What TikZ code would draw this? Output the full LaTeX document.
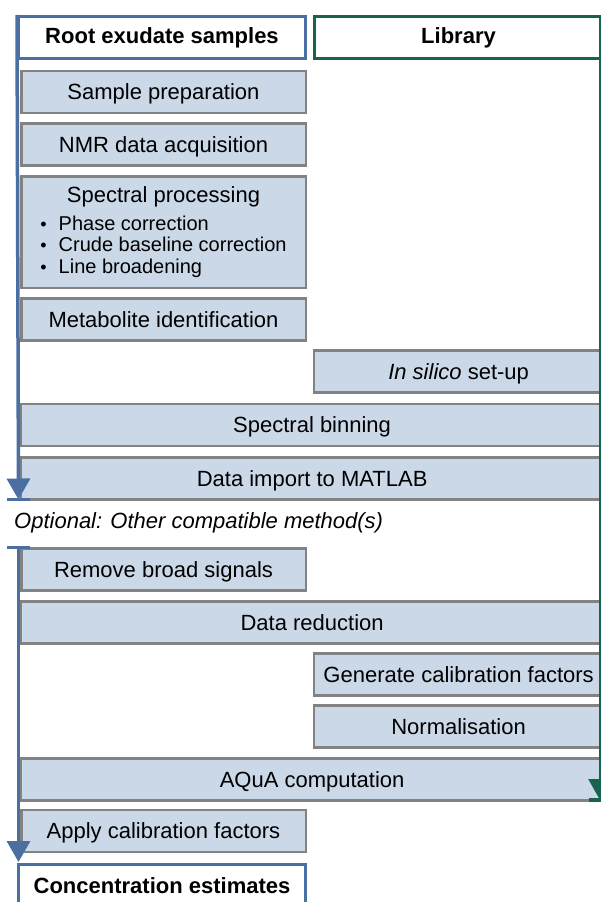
\documentclass[tikz,border=0pt]{standalone}
\usepackage{fontspec}
\setmainfont{Liberation Sans}
\usetikzlibrary{arrows.meta}
\definecolor{boxfill}{HTML}{CBD8E8}
\definecolor{boxline}{HTML}{828282}
\definecolor{rootblue}{HTML}{4A6FA0}
\definecolor{libgreen}{HTML}{17634C}
\newcommand{\basefont}{\fontsize{22}{26}\selectfont}
\newcommand{\smallbullet}{{\fontsize{18}{18}\selectfont\textbullet}}
\tikzstyle{stepbox} = [rectangle, draw=boxline, fill=boxfill, line width=2.5pt,
minimum height=42pt, inner sep=0pt, font=\basefont]
\tikzstyle{oneline} = [text height=18pt, text depth=2.5pt]
\tikzstyle{leftbox} = [stepbox, oneline, minimum width=284.5pt]
\tikzstyle{rightbox} = [stepbox, oneline, minimum width=288.75pt]
\tikzstyle{fullbox} = [stepbox, oneline, minimum width=581.75pt]
\tikzstyle{header} = [rectangle, fill=white, line width=3pt,
minimum height=42pt, inner sep=0pt, font=\basefont\bfseries]
\tikzstyle{flow} = [line width=3.5pt, -{Triangle[width=23pt,length=21pt]}]
\tikzstyle{endbar} = [line width=3.5pt]

\begin{document}
\begin{tikzpicture}[x=1pt, y=-1pt]
\useasboundingbox (0,0) rectangle (600,902);

% Headers
\node[header, draw=rootblue, minimum width=287pt] (samples) at (162,37.5) {Root exudate samples};
\node[header, draw=libgreen, minimum width=288pt] (library) at (458.5,37.5) {Library};

% Steps
\node[leftbox] (preparation) at (163.5,92) {Sample preparation};
\node[leftbox] (acquisition) at (163.5,144.5) {NMR data acquisition};
\node[stepbox, minimum width=284.5pt, minimum height=111.5pt] (processing) at (163.5,232) {\begin{tabular}{@{}c@{}}Spectral processing\\[2pt]
{\fontsize{20}{21.5}\selectfont\begin{tabular}[t]{@{}l@{\hspace{12pt}}l@{}}\smallbullet&Phase correction\\
\smallbullet&Crude baseline correction\\
\smallbullet&Line broadening\end{tabular}}\end{tabular}};
\node[leftbox] (identification) at (163.5,319.5) {Metabolite identification};
\node[rightbox] (insilico) at (458.6,371.5) {\textit{In silico} set-up};
\node[fullbox] (binning) at (312.1,425) {Spectral binning};
\node[fullbox] (matlab) at (312.1,478.5) {Data import to MATLAB};
\node[anchor=west, font=\basefont\itshape, inner sep=0pt] (optional) at (14,523) {Optional: Other compatible method(s)};
\node[leftbox] (broad) at (163.5,569.5) {Remove broad signals};
\node[fullbox] (reduction) at (312.1,622.5) {Data reduction};
\node[rightbox] (calibration) at (458.6,674.5) {Generate calibration factors};
\node[rightbox] (normalisation) at (458.6,726.5) {Normalisation};
\node[fullbox] (aqua) at (312.1,779.5) {AQuA computation};
\node[leftbox] (apply) at (163.5,831) {Apply calibration factors};
\node[header, draw=rootblue, minimum width=287pt] (estimates) at (162,885.5) {Concentration estimates};

% Arrows
\coordinate (importend) at (18.5,499.5);
\coordinate (resume) at (18.5,547.5);
\coordinate (estimatesend) at (18.5,862);
\coordinate (aquaend) at (600,800);
\draw[flow, rootblue] (samples.north west) -- (importend);
\draw[endbar, rootblue] ([xshift=-11.5pt]importend) -- ([xshift=11.5pt]importend);
\draw[endbar, rootblue] ([xshift=-11.5pt]resume) -- ([xshift=11.5pt]resume);
\draw[flow, rootblue] (resume) -- (estimatesend);
\draw[flow, libgreen, line width=2.5pt] (600,16.5) -- (aquaend);
\draw[endbar, libgreen] ([xshift=-11.5pt]aquaend) -- ([xshift=11.5pt]aquaend);

\end{tikzpicture}
\end{document}
